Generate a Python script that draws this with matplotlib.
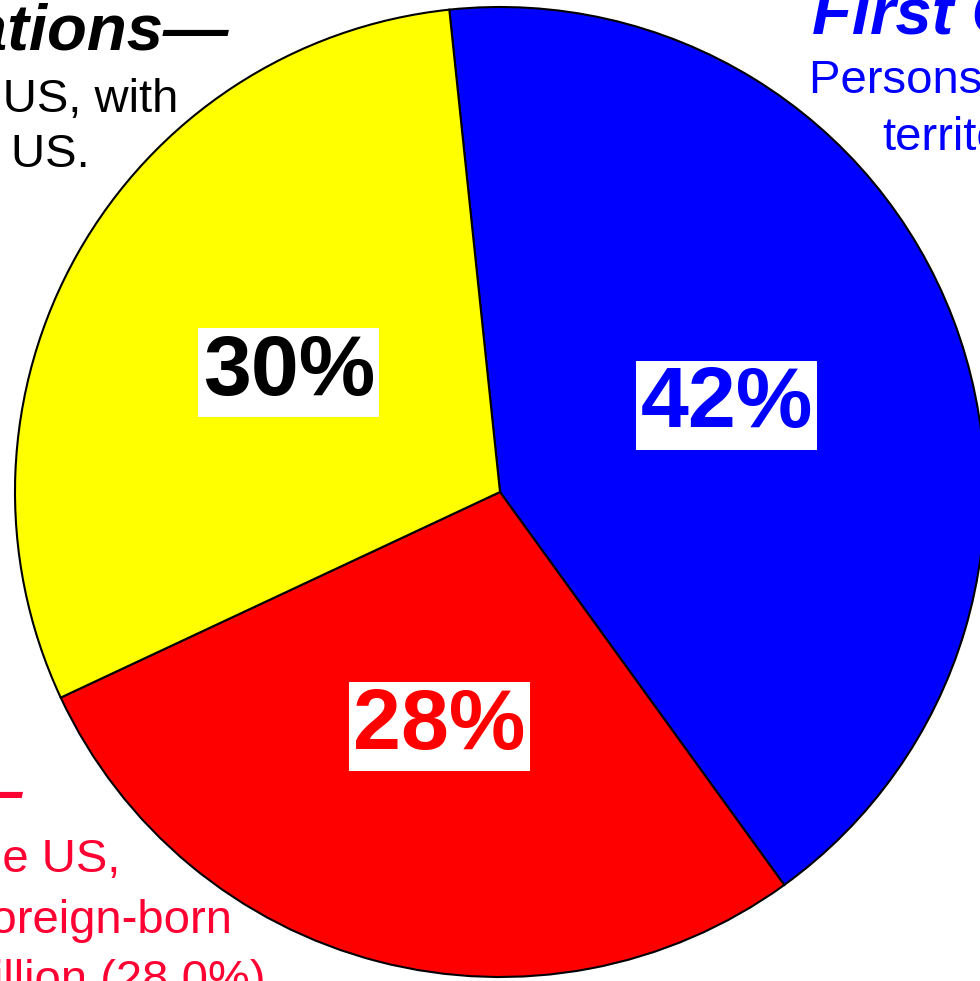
import matplotlib
matplotlib.use("Agg")
import matplotlib.pyplot as plt

plt.rcParams["font.family"] = ["Liberation Sans", "DejaVu Sans"]

# generation shares (%), clockwise from the top
groups = ["First Generation", "Second Generation", "Third+ Generations"]
shares = [41.7, 28.0, 30.3]
colors = ["#0000ff", "#ff0000", "#ffff00"]
label_colors = ["#0000ff", "#ff0000", "#000000"]

fig = plt.figure(figsize=(9.8, 9.81), dpi=100)
ax = fig.add_axes([0, 0, 1, 1])
ax.set_xlim(0, 980)
ax.set_ylim(0, 981)
ax.axis("off")

wedges, texts, autotexts = ax.pie(
    shares, colors=colors, center=(500, 489), radius=485,
    startangle=96, counterclock=False, autopct="%.0f%%", pctdistance=0.5,
    wedgeprops=dict(edgecolor="black", linewidth=1.5),
    textprops=dict(fontsize=62, fontweight="bold"),
    frame=True,
)
ax.set_xlim(0, 980)
ax.set_ylim(0, 981)
ax.axis("off")
for t, c in zip(autotexts, label_colors):
    t.set_color(c)
    t.set_bbox(dict(facecolor="white", edgecolor="none", pad=3))

# side annotations (cropped at the canvas edge like the original)
txt = dict(transform=fig.transFigure, va="baseline")
def px(x, y):
    return x / 980, 1 - y / 981

# third+ generations (black)
fig.text(*px(228, 50), "Third-and-Higher Generations\u2014", ha="right",
         fontsize=47, fontweight="bold", fontstyle="italic", color="black", **txt)
fig.text(*px(178, 112), "Persons born in the US, with", ha="right",
         fontsize=34, color="black", **txt)
fig.text(*px(90, 167), "both parents born in the US.", ha="right",
         fontsize=34, color="black", **txt)

# first generation (blue)
fig.text(*px(812, 33), "First Generation\u2014", ha="left",
         fontsize=47, fontweight="bold", fontstyle="italic", color="#0000ff", **txt)
fig.text(*px(809, 93), "Persons born outside the US", ha="left",
         fontsize=34, color="#0000ff", **txt)
fig.text(*px(882, 150), "territories", ha="left",
         fontsize=34, color="#0000ff", **txt)

# second generation (red)
red = "#ff0033"
fig.text(*px(22, 812), "Second Generation\u2014", ha="right",
         fontsize=47, fontweight="bold", fontstyle="italic", color=red, **txt)
fig.text(*px(120, 872), "Persons born in the US,", ha="right",
         fontsize=34, color=red, **txt)
fig.text(*px(232, 933), "with at least one foreign-born", ha="right",
         fontsize=34, color=red, **txt)
fig.text(*px(265, 993), "parent: 33.9 million (28.0%)", ha="right",
         fontsize=34, color=red, **txt)

fig.savefig("out.png", dpi=100, facecolor="white")
